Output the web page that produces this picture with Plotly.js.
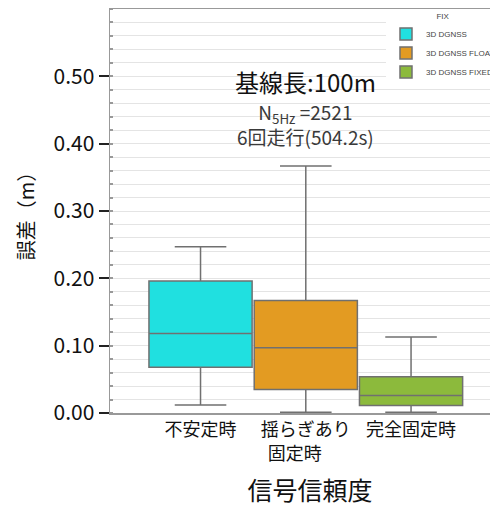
<!DOCTYPE html>
<html>
<head>
<meta charset="utf-8">
<script src="https://cdn.plot.ly/plotly-3.0.1.min.js"></script>
<style>html,body{margin:0;padding:0;background:#fff;overflow:hidden;width:490px;height:507px;}</style>
</head>
<body>
<div id="chart" style="width:510px;height:507px;"></div>
<script>
// Categories (signal reliability) and series names
const categories = ["不安定時", "揺らぎあり<br>固定時\u3000\u00A0", "完全固定時"];
const seriesNames = ["3D DGNSS", "3D DGNSS FLOAT", "3D DGNSS FIXED"];
const colors = ["#20E0E0", "#E39B22", "#8CBA3C"];
// Box statistics (m)
const lowerFence = [0.012, 0.001, 0.001];
const q1 = [0.068, 0.035, 0.011];
const median = [0.118, 0.097, 0.026];
const q3 = [0.196, 0.167, 0.054];
const upperFence = [0.247, 0.367, 0.113];
const yTicks = [0, 0.1, 0.2, 0.3, 0.4, 0.5];

const font = "Noto Sans CJK JP, Noto Sans, sans-serif";

const traces = categories.map((c, i) => ({
  type: "box",
  name: seriesNames[i],
  x: [c],
  q1: [q1[i]],
  median: [median[i]],
  q3: [q3[i]],
  lowerfence: [lowerFence[i]],
  upperfence: [upperFence[i]],
  fillcolor: colors[i],
  line: {color: "#707070", width: 1.5},
  width: 0.98,
  whiskerwidth: 0.5,
  boxpoints: false,
  hoverinfo: "skip"
}));

const layout = {
  width: 510, height: 507,
  margin: {l: 110, r: 0, t: 9, b: 94, autoexpand: false},
  paper_bgcolor: "#fff", plot_bgcolor: "#fff",
  font: {family: font, color: "#111"},
  boxmode: "overlay",
  showlegend: true,
  legend: {
    x: 0.69, y: 1, xanchor: "left", yanchor: "top",
    bgcolor: "#fff",
    font: {size: 8, color: "#444", family: "Liberation Sans, Arial, sans-serif"},
    title: {text: "FIX", side: "top center", font: {size: 8, color: "#444", family: "Liberation Sans, Arial, sans-serif"}},
    tracegroupgap: 0
  },
  xaxis: {
    type: "category",
    categoryorder: "array", categoryarray: categories,
    range: [-0.86, 2.94],
    showline: true, linecolor: "#999", linewidth: 1.5, mirror: true,
    showgrid: false, zeroline: false,
    ticks: "",
    tickfont: {size: 18, color: "#111", family: font},
    title: {text: "信号信頼度", font: {size: 25, color: "#111", family: font}, standoff: 33}
  },
  yaxis: {
    range: [0, 0.6],
    tickvals: yTicks,
    tickformat: ".2f",
    showline: true, linecolor: "#999", linewidth: 1.5,
    ticks: "outside", ticklen: 10, tickwidth: 2, tickcolor: "#222",
    tickfont: {size: 21, color: "#111", family: font},
    showgrid: true, gridcolor: "#e4e4e4", gridwidth: 1,
    zeroline: false,
    minor: {dtick: 0.02, showgrid: true, gridcolor: "#e4e4e4", ticks: "inside", ticklen: 3, tickcolor: "#999"},
    title: {text: "誤差（m）", font: {size: 20, color: "#111", family: font}, standoff: 13}
  },
  annotations: [
    {xref: "x", yref: "y", x: categories[1], y: 0.493, text: "基線長:100m", showarrow: false,
     font: {size: 24, color: "#111", family: font}, xanchor: "center", yanchor: "middle"},
    {xref: "x", yref: "y", x: categories[1], y: 0.4288, text: "N<sub>5Hz</sub> =2521<br>6回走行(504.2s)", showarrow: false,
     font: {size: 19, color: "#3a3a3a", family: font}, xanchor: "center", yanchor: "middle", align: "center"}
  ]
};

Plotly.newPlot("chart", traces, layout, {displayModeBar: false, staticPlot: true});
</script>
</body>
</html>
